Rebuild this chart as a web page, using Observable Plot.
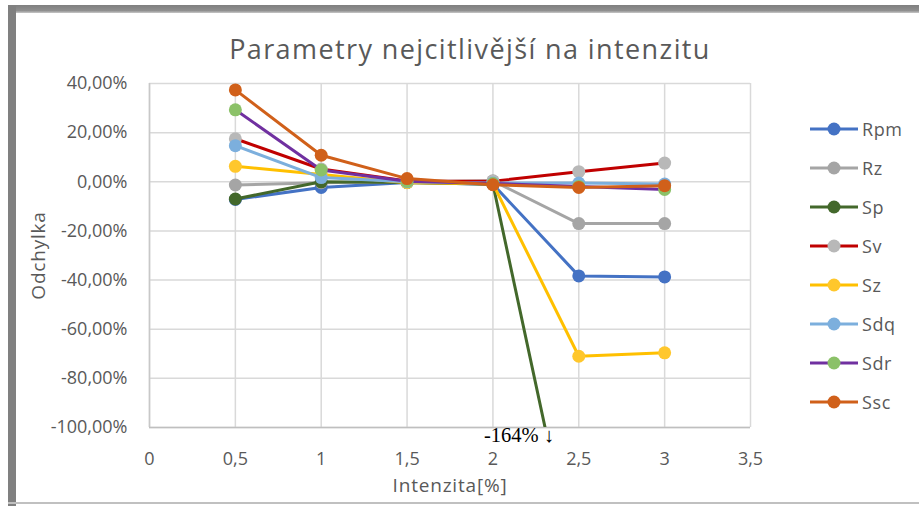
<!DOCTYPE html>
<html>
<head>
<meta charset="utf-8">
<script src="https://cdn.jsdelivr.net/npm/d3@7"></script>
<script src="https://cdn.jsdelivr.net/npm/@observablehq/plot@0.6"></script>
<style>
  html, body { margin: 0; padding: 0; background: #fff; }
  #wrap { position: relative; width: 919px; height: 506px; overflow: hidden; background: #fff; font-family: "Open Sans", sans-serif; }
  #wrap svg.plot { position: absolute; left: 0; top: 0; }
  #frameTop { position: absolute; left: 8px; top: 5px; width: 911px; height: 8px; background: linear-gradient(#7f7f7f, #8f8f8f 70%, #c8c8c8); }
  #frameLeft { position: absolute; left: 8px; top: 5px; width: 8px; height: 501px; background: #808080; }
  #frameBottom { position: absolute; left: 8px; top: 502px; width: 911px; height: 2px; background: #c0c0c0; }
  #title { position: absolute; left: 0; width: 940px; top: 30px; text-align: center; font-size: 27px; color: #595959; letter-spacing: 1.4px; white-space: nowrap; }
  .leg { position: absolute; left: 808px; height: 20px; display: flex; align-items: center; font-size: 18px; color: #595959; letter-spacing: 0.6px; }
  .leg svg { margin-right: 2px; }
</style>
</head>
<body>
<div id="wrap">
  <div id="title">Parametry nejcitlivější na intenzitu</div>
</div>
<script>
// ---- data ----
const intensity = [0.5, 1, 1.5, 2, 2.5, 3];
const seriesNames = ["Rpm", "Rz", "Sp", "Sv", "Sz", "Sdq", "Sdr", "Ssc"];
const Rpm = [-7.2, -2.3, -0.3, -1.0, -38.3, -38.7];
const Rz  = [-1.3, -0.4, 0.0, 0.4, -17.0, -17.0];
const Sp  = [-7.0, 0.0, -0.3, -1.0, -164.0, -164.0];
const Sv  = [17.5, 5.2, 0.3, 0.2, 4.1, 7.6];
const Sz  = [6.3, 3.0, -0.4, -0.8, -71.0, -69.6];
const Sdq = [14.7, 1.7, 0.0, -0.5, -0.5, -0.9];
const Sdr = [29.3, 4.8, 0.2, -0.7, -1.9, -3.1];
const Ssc = [37.4, 10.8, 1.3, -1.2, -2.3, -1.6];
const seriesValues = [Rpm, Rz, Sp, Sv, Sz, Sdq, Sdr, Ssc];
const lineColors   = ["#4472C4", "#A5A5A5", "#43682B", "#C00000", "#FFC000", "#7CAFDD", "#7030A0", "#D0601A"];
const markerColors = ["#4472C4", "#A5A5A5", "#43682B", "#B8B8B8", "#FFC72C", "#7CAFDD", "#8BC168", "#D0601A"];
const xTicks = [0, 0.5, 1, 1.5, 2, 2.5, 3, 3.5];
const yTicks = [40, 20, 0, -20, -40, -60, -80, -100];
const xLabel = "Intenzita[%]";
const yLabel = "Odchylka";
const annotationText = "-164% ↓";

// ---- build ----
const rows = seriesNames.flatMap((s, i) => intensity.map((x, j) => ({series: s, x, y: seriesValues[i][j]})));
const fmtX = d => String(d).replace(".", ",");
const fmtY = d => d.toFixed(2).replace(".", ",") + "%";

// point where Sp leaves the plotted range (for the annotation)
const spIdx = Sp.findIndex(v => v < -100);
const x0 = intensity[spIdx - 1], x1 = intensity[spIdx], y0 = Sp[spIdx - 1], y1 = Sp[spIdx];
const crossX = x0 + (-100 - y0) / (y1 - y0) * (x1 - x0);

const seriesMarks = seriesNames.flatMap((s, i) => {
  const d = rows.filter(r => r.series === s);
  return [
    Plot.line(d, {x: "x", y: "y", stroke: lineColors[i], strokeWidth: 3, clip: true}),
    Plot.dot(d, {x: "x", y: "y", r: 6.5, fill: markerColors[i], stroke: "none", clip: true})
  ];
});

const chart = Plot.plot({
  width: 919,
  height: 506,
  marginLeft: 149,
  marginRight: 169,
  marginTop: 83,
  marginBottom: 79,
  style: {fontFamily: "Open Sans, sans-serif", background: "transparent", overflow: "visible"},
  x: {domain: [0, 3.5]},
  y: {domain: [-100, 40]},
  marks: [
    Plot.gridY(yTicks, {stroke: "#d9d9d9", strokeOpacity: 1, strokeWidth: 1.5}),
    Plot.gridX(xTicks, {stroke: "#d9d9d9", strokeOpacity: 1, strokeWidth: 1.5}),
    Plot.ruleX([0], {stroke: "#c8c8c8", strokeWidth: 1.5}),
    Plot.ruleY([-100], {stroke: "#bfbfbf", strokeWidth: 1.5}),
    Plot.axisY(yTicks, {tickFormat: fmtY, tickSize: 0, tickPadding: 22, fontSize: 18, fill: "#595959",
      style: "letter-spacing:1.1px", label: yLabel, labelArrow: "none", labelAnchor: "center", labelOffset: 118}),
    Plot.axisX(xTicks, {tickFormat: fmtX, tickSize: 0, tickPadding: 25, fontSize: 18, fill: "#595959",
      label: xLabel, labelArrow: "none", labelAnchor: "center", labelOffset: 64}),
    ...seriesMarks,
    Plot.text([{x: crossX, y: -100}], {x: "x", y: "y", text: () => annotationText, textAnchor: "end",
      dx: 9, dy: 8, fontSize: 20.5, fill: "#000", fontFamily: "Liberation Serif, serif"})
  ]
});
chart.classList.add("plot");
const wrap = document.getElementById("wrap");
wrap.insertBefore(chart, wrap.firstChild);

// axis-label styling (and make sure no direction arrows are shown)
[["y-axis label", yLabel], ["x-axis label", xLabel]].forEach(([aria, txt]) => {
  chart.querySelectorAll(`[aria-label='${aria}'] text`).forEach(t => {
    t.textContent = txt;
    t.setAttribute("font-size", "19");
    t.setAttribute("fill", "#595959");
    t.style.fontSize = "19px";
    t.style.letterSpacing = "0.8px";
  });
});

// legend
seriesNames.forEach((s, i) => {
  const item = document.createElement("div");
  item.className = "leg";
  item.style.top = (119 + i * 39) + "px";
  item.innerHTML = `<svg width="52" height="20"><line x1="2" x2="50" y1="10" y2="10" stroke="${lineColors[i]}" stroke-width="3"/><circle cx="26" cy="10" r="6.5" fill="${markerColors[i]}"/></svg><span>${s}</span>`;
  wrap.appendChild(item);
});

// frame
["frameTop", "frameLeft", "frameBottom"].forEach(id => {
  const d = document.createElement("div"); d.id = id; wrap.appendChild(d);
});
</script>
</body>
</html>
